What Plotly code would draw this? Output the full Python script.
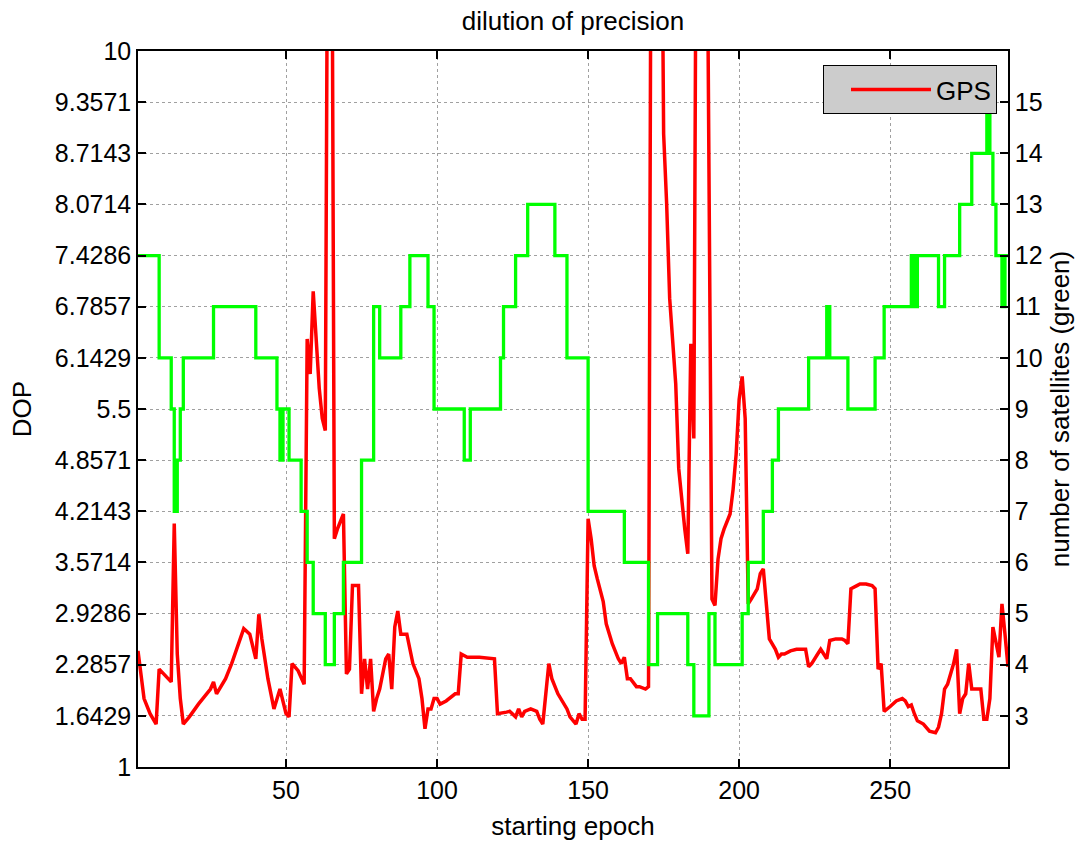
import plotly.graph_objects as go

# Per-epoch dilution of precision (GPS) - vertices of the red curve
dop_epoch = [1, 3, 5, 7, 8, 12, 13, 14, 15, 16, 18, 21, 25, 26, 27, 30, 32, 35, 36, 38,
             40, 41, 42, 44, 46, 48, 50, 51, 52, 54, 56, 57, 58, 59, 60, 61, 62, 63, 64, 65,
             66, 67, 69, 70, 71, 72, 74, 75, 76, 77, 78, 79, 80, 81, 83, 84, 85, 86, 87, 88,
             90, 91, 92, 94, 95, 96, 97, 98, 99, 100, 101, 103, 104, 106, 107, 108, 110, 114, 119, 120,
             123, 124, 126, 127, 128, 129, 131, 133, 134, 135, 137, 138, 140, 142, 143, 144, 146, 147, 148, 149,
             150, 151, 152, 153, 155, 156, 158, 160, 161, 162, 163, 164, 166, 167, 169, 170, 171, 174, 175, 176,
             177, 179, 180, 182, 183, 184, 185, 186, 189, 191, 192, 193, 194, 195, 197, 198, 199, 200, 201, 202,
             203, 204, 206, 207, 208, 210, 211, 212, 213, 214, 215, 217, 219, 220, 222, 223, 224, 226, 227, 228,
             229, 230, 232, 234, 235, 236, 237, 239, 240, 242, 244, 245, 246, 247, 248, 250, 252, 254, 255, 256,
             257, 258, 259, 261, 262, 263, 265, 266, 267, 268, 269, 270, 271, 272, 273, 274, 275, 276, 277, 279,
             280, 281, 282, 283, 284, 286, 287, 288, 289]
dop_value = [2.46, 1.86, 1.67, 1.54, 2.23, 2.07, 4.06, 2.42, 1.86, 1.54, 1.63, 1.79, 1.98, 2.07, 1.92, 2.11, 2.30, 2.61, 2.74, 2.67,
             2.36, 2.92, 2.61, 2.11, 1.73, 1.98, 1.67, 1.63, 2.30, 2.21, 2.04, 6.38, 5.94, 6.98, 6.38, 5.76, 5.38, 5.23, 14.0, 14.0,
             3.87, 3.99, 4.18, 2.17, 2.23, 3.28, 3.28, 1.92, 2.36, 1.98, 2.36, 1.70, 1.86, 1.98, 2.36, 2.42, 1.98, 2.76, 2.96, 2.67,
             2.67, 2.48, 2.30, 2.11, 1.86, 1.48, 1.73, 1.73, 1.86, 1.86, 1.79, 1.83, 1.86, 1.92, 1.92, 2.42, 2.38, 2.38, 2.36, 1.67,
             1.69, 1.70, 1.63, 1.73, 1.63, 1.70, 1.73, 1.70, 1.60, 1.54, 2.30, 2.11, 1.92, 1.79, 1.73, 1.63, 1.54, 1.67, 1.60, 1.60,
             4.12, 3.87, 3.53, 3.37, 3.08, 2.80, 2.55, 2.36, 2.30, 2.38, 2.11, 2.11, 2.01, 2.01, 1.98, 2.01, 14.0, 14.0, 8.96, 8.08,
             6.89, 5.82, 4.75, 3.99, 3.68, 6.32, 5.13, 14.0, 14.0, 3.11, 3.03, 3.61, 3.87, 3.99, 4.18, 4.49, 4.93, 5.62, 5.91, 5.38,
             3.05, 3.11, 3.24, 3.43, 3.49, 2.61, 2.55, 2.48, 2.38, 2.42, 2.42, 2.46, 2.48, 2.48, 2.48, 2.26, 2.30, 2.42, 2.48, 2.42,
             2.36, 2.59, 2.61, 2.61, 2.59, 2.55, 3.24, 3.28, 3.30, 3.30, 3.28, 3.24, 2.23, 2.30, 1.70, 1.76, 1.83, 1.86, 1.83, 1.76,
             1.78, 1.67, 1.58, 1.54, 1.50, 1.45, 1.43, 1.50, 1.67, 1.98, 2.04, 2.17, 2.30, 2.48, 1.67, 1.86, 1.92, 2.30, 1.98, 1.98,
             1.98, 1.60, 1.60, 1.86, 2.76, 2.38, 3.05, 2.67, 2.26]

# Number of visible satellites - epochs where the count changes
sat_epoch = [1, 8, 12, 13, 14, 15, 16, 26, 40, 47, 48, 49, 51, 55, 57, 59, 63, 66, 69, 75,
             79, 81, 88, 91, 97, 99, 109, 111, 121, 122, 126, 130, 139, 143, 150, 162, 170, 173, 183, 185,
             190, 192, 201, 203, 208, 211, 213, 223, 229, 230, 236, 245, 248, 257, 258, 259, 266, 268, 273, 277,
             282, 283, 284, 285, 287, 288, 289]
sat_count = [12, 10, 9, 7, 8, 9, 10, 11, 10, 9, 8, 9, 8, 7, 6, 5, 4, 5, 6, 8,
             11, 10, 11, 12, 11, 9, 8, 9, 10, 11, 12, 13, 12, 10, 7, 6, 4, 5, 4, 3,
             5, 4, 5, 6, 7, 8, 9, 10, 11, 10, 9, 10, 11, 12, 11, 12, 11, 12, 13, 14,
             15, 14, 13, 12, 11, 12, 12]

# Axis ticks
dop_ticks = [1 + 9 * k / 14 for k in range(15)]
dop_ticktext = ["1", "1.6429", "2.2857", "2.9286", "3.5714", "4.2143", "4.8571", "5.5",
                "6.1429", "6.7857", "7.4286", "8.0714", "8.7143", "9.3571", "10"]
sat_ticks = list(range(2, 17))
sat_ticktext = [""] + [str(v) for v in range(3, 16)] + [""]
epoch_ticks = [50, 100, 150, 200, 250]

FONT = "Liberation Sans, Arial, Helvetica, sans-serif"
TICK_SIZE = 25
TITLE_SIZE = 26
W, H = 1078, 846
L, R, T, B = 138, 70, 51, 79

fig = go.Figure()

fig.add_trace(go.Scatter(
    x=sat_epoch, y=sat_count, yaxis="y2", mode="lines",
    line=dict(color="#00ff00", width=3.3, shape="hv"),
    showlegend=False, name="satellites",
))
fig.add_trace(go.Scatter(
    x=dop_epoch, y=dop_value, mode="lines",
    line=dict(color="#ff0000", width=3.5),
    name="GPS",
))

axis_common = dict(
    showline=True, linecolor="black", linewidth=1.5,
    ticks="inside", tickcolor="black", ticklen=8, tickwidth=1.5,
    tickfont=dict(family=FONT, size=TICK_SIZE, color="black"),
    zeroline=False, automargin=False,
)

fig.update_layout(
    width=W, height=H,
    margin=dict(l=L, r=R, t=T, b=B, autoexpand=False),
    paper_bgcolor="white", plot_bgcolor="white",
    font=dict(family=FONT, size=TITLE_SIZE, color="black"),
    title=dict(text="dilution of precision", x=0.5, xref="paper", xanchor="center",
               y=1 - 21 / H, yref="container", yanchor="middle",
               font=dict(family=FONT, size=TITLE_SIZE, color="black")),
    xaxis=dict(
        range=[1, 289], tickvals=epoch_ticks, mirror="ticks",
        showgrid=True, gridcolor="#a0a0a0", griddash="dot", gridwidth=1,
        title=dict(text="starting epoch", font=dict(family=FONT, size=TITLE_SIZE), standoff=14),
        **axis_common,
    ),
    yaxis=dict(
        range=[1, 10], tickvals=dop_ticks, ticktext=dop_ticktext,
        showgrid=True, gridcolor="#a0a0a0", griddash="dot", gridwidth=1,
        title=dict(text="DOP", font=dict(family=FONT, size=TITLE_SIZE), standoff=16),
        **axis_common,
    ),
    yaxis2=dict(
        range=[2, 16], tickvals=sat_ticks, ticktext=sat_ticktext,
        overlaying="y", side="right", showgrid=False,
        title=dict(text="number of satellites (green)", font=dict(family=FONT, size=TITLE_SIZE), standoff=9),
        **axis_common,
    ),
    legend=dict(
        x=(997 - L) / (W - L - R), xanchor="right",
        y=(H - B - 65) / (H - T - B), yanchor="top",
        bgcolor="#cccccc", bordercolor="black", borderwidth=1,
        font=dict(family=FONT, size=26, color="black"),
        itemwidth=80, indentation=22,
    ),
)

fig.write_html("out.html")
